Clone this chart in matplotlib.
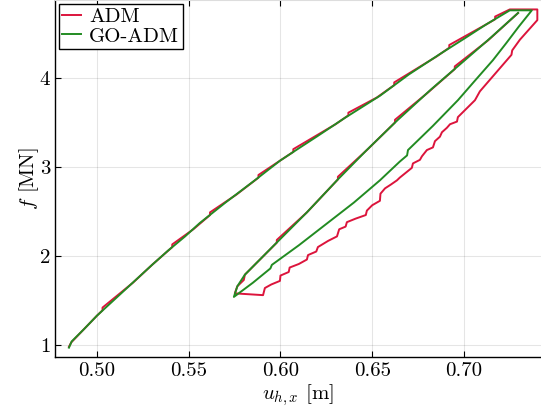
import matplotlib
matplotlib.use("Agg")
import matplotlib.pyplot as plt

plt.rcParams['font.family'] = 'serif'
plt.rcParams['font.serif'] = ['cmr10', 'DejaVu Serif']
plt.rcParams['mathtext.fontset'] = 'cm'
plt.rcParams['axes.formatter.use_mathtext'] = True

series_names = ["ADM", "GO-ADM"]

adm_x = [0.4847, 0.4860, 0.5000, 0.5030, 0.5030, 0.5196, 0.5300, 0.5410, 0.5410, 0.5525,
         0.5616, 0.5616, 0.5760, 0.5880, 0.5880, 0.5997, 0.6070, 0.6070, 0.6300, 0.6370,
         0.6370, 0.6525, 0.6620, 0.6620, 0.6850, 0.6920, 0.6920, 0.7120, 0.7170, 0.7170,
         0.7250, 0.7400, 0.7400,
         0.7305, 0.7263, 0.7259, 0.7087, 0.7060, 0.6967, 0.6962, 0.6924, 0.6907, 0.6880,
         0.6869, 0.6842, 0.6831, 0.6798, 0.6771, 0.6760, 0.6722, 0.6716, 0.6650, 0.6635,
         0.6600, 0.6570, 0.6545, 0.6542, 0.6500, 0.6471, 0.6465, 0.6410, 0.6362, 0.6355,
         0.6320, 0.6308, 0.6260, 0.6204, 0.6195, 0.6150, 0.6144, 0.6100, 0.6050, 0.6045,
         0.6000, 0.5997, 0.5950, 0.5915, 0.5905, 0.5751,
         0.5765, 0.5800, 0.5806, 0.5980, 0.5980, 0.6144, 0.6313, 0.6313, 0.6476, 0.6624,
         0.6624, 0.6800, 0.6950, 0.6950, 0.7130, 0.7295]
adm_y = [0.98, 1.03, 1.33, 1.39, 1.42, 1.70, 1.90, 2.10, 2.13, 2.30,
         2.46, 2.49, 2.69, 2.88, 2.91, 3.07, 3.17, 3.20, 3.48, 3.58,
         3.61, 3.78, 3.92, 3.95, 4.24, 4.34, 4.37, 4.60, 4.66, 4.69,
         4.77, 4.77, 4.65,
         4.43, 4.31, 4.26, 3.85, 3.75, 3.56, 3.51, 3.48, 3.44, 3.39,
         3.34, 3.29, 3.22, 3.19, 3.12, 3.08, 3.04, 2.99, 2.88, 2.85,
         2.80, 2.76, 2.70, 2.62, 2.57, 2.51, 2.46, 2.42, 2.38, 2.33,
         2.30, 2.22, 2.17, 2.10, 2.05, 2.01, 1.96, 1.91, 1.87, 1.82,
         1.78, 1.72, 1.68, 1.64, 1.56, 1.58,
         1.66, 1.73, 1.79, 2.15, 2.18, 2.49, 2.86, 2.89, 3.20, 3.50,
         3.53, 3.83, 4.10, 4.13, 4.42, 4.73]

go_x = [0.4847, 0.4862, 0.4930, 0.5000, 0.5100, 0.5200, 0.5300, 0.5387, 0.5480, 0.5560,
        0.5700, 0.5860, 0.5997, 0.6100, 0.6204, 0.6350, 0.6542, 0.6700, 0.6870, 0.7000,
        0.7120, 0.7250, 0.7370,
        0.7300, 0.7230, 0.7158, 0.7060, 0.6967, 0.6830, 0.6695, 0.6690, 0.6650, 0.6542,
        0.6400, 0.6250, 0.6100, 0.5953, 0.5945, 0.5850, 0.5746,
        0.5765, 0.5806, 0.5960, 0.6144, 0.6308, 0.6470, 0.6640, 0.6820, 0.7005, 0.7150,
        0.7295]
go_y = [0.97, 1.04, 1.18, 1.33, 1.52, 1.71, 1.90, 2.06, 2.22, 2.37,
        2.60, 2.85, 3.07, 3.21, 3.35, 3.55, 3.80, 4.04, 4.27, 4.44,
        4.60, 4.76, 4.76,
        4.58, 4.39, 4.20, 3.97, 3.75, 3.46, 3.19, 3.13, 3.06, 2.85,
        2.60, 2.36, 2.12, 1.90, 1.86, 1.70, 1.54,
        1.66, 1.79, 2.11, 2.49, 2.85, 3.19, 3.53, 3.87, 4.20, 4.46,
        4.73]

x_ticks = [0.50, 0.55, 0.60, 0.65, 0.70]
y_ticks = [1, 2, 3, 4]

fig = plt.figure(figsize=(5.41, 4.15), dpi=100)
ax = fig.add_axes([55/541, 58/415, 486/541, 357/415])

ax.plot(adm_x, adm_y, color='#DC143C', lw=1.4, label=series_names[0], zorder=3)
ax.plot(go_x, go_y, color='#228B22', lw=1.4, label=series_names[1], zorder=4)

ax.set_xlim(0.4771, 0.7420)
ax.set_ylim(0.865, 4.876)
ax.set_xticks(x_ticks)
ax.set_xticklabels([f"{v:.2f}" for v in x_ticks])
ax.set_yticks(y_ticks)
ax.set_yticklabels([str(v) for v in y_ticks])
ax.tick_params(direction='in', length=4, width=0.8, labelsize=15, top=True, right=False)
ax.grid(True, color='black', alpha=0.1, lw=0.8)
ax.spines['right'].set_visible(False)
ax.spines['top'].set_color('#dddddd')
ax.spines['left'].set_linewidth(1.0)
ax.spines['bottom'].set_linewidth(1.0)

ax.set_xlabel(r"$u_{h,x}$ [m]", fontsize=15, labelpad=2)
ax.set_ylabel(r"$f$ [MN]", fontsize=15, labelpad=-1)

leg = ax.legend(loc='upper left', fontsize=15, frameon=True, fancybox=False,
                edgecolor='black', framealpha=1, borderpad=0.15, handlelength=0.9,
                handletextpad=0.4, labelspacing=0.05, borderaxespad=0.2)
leg.get_frame().set_linewidth(1.0)

fig.savefig("out.png", dpi=100)
